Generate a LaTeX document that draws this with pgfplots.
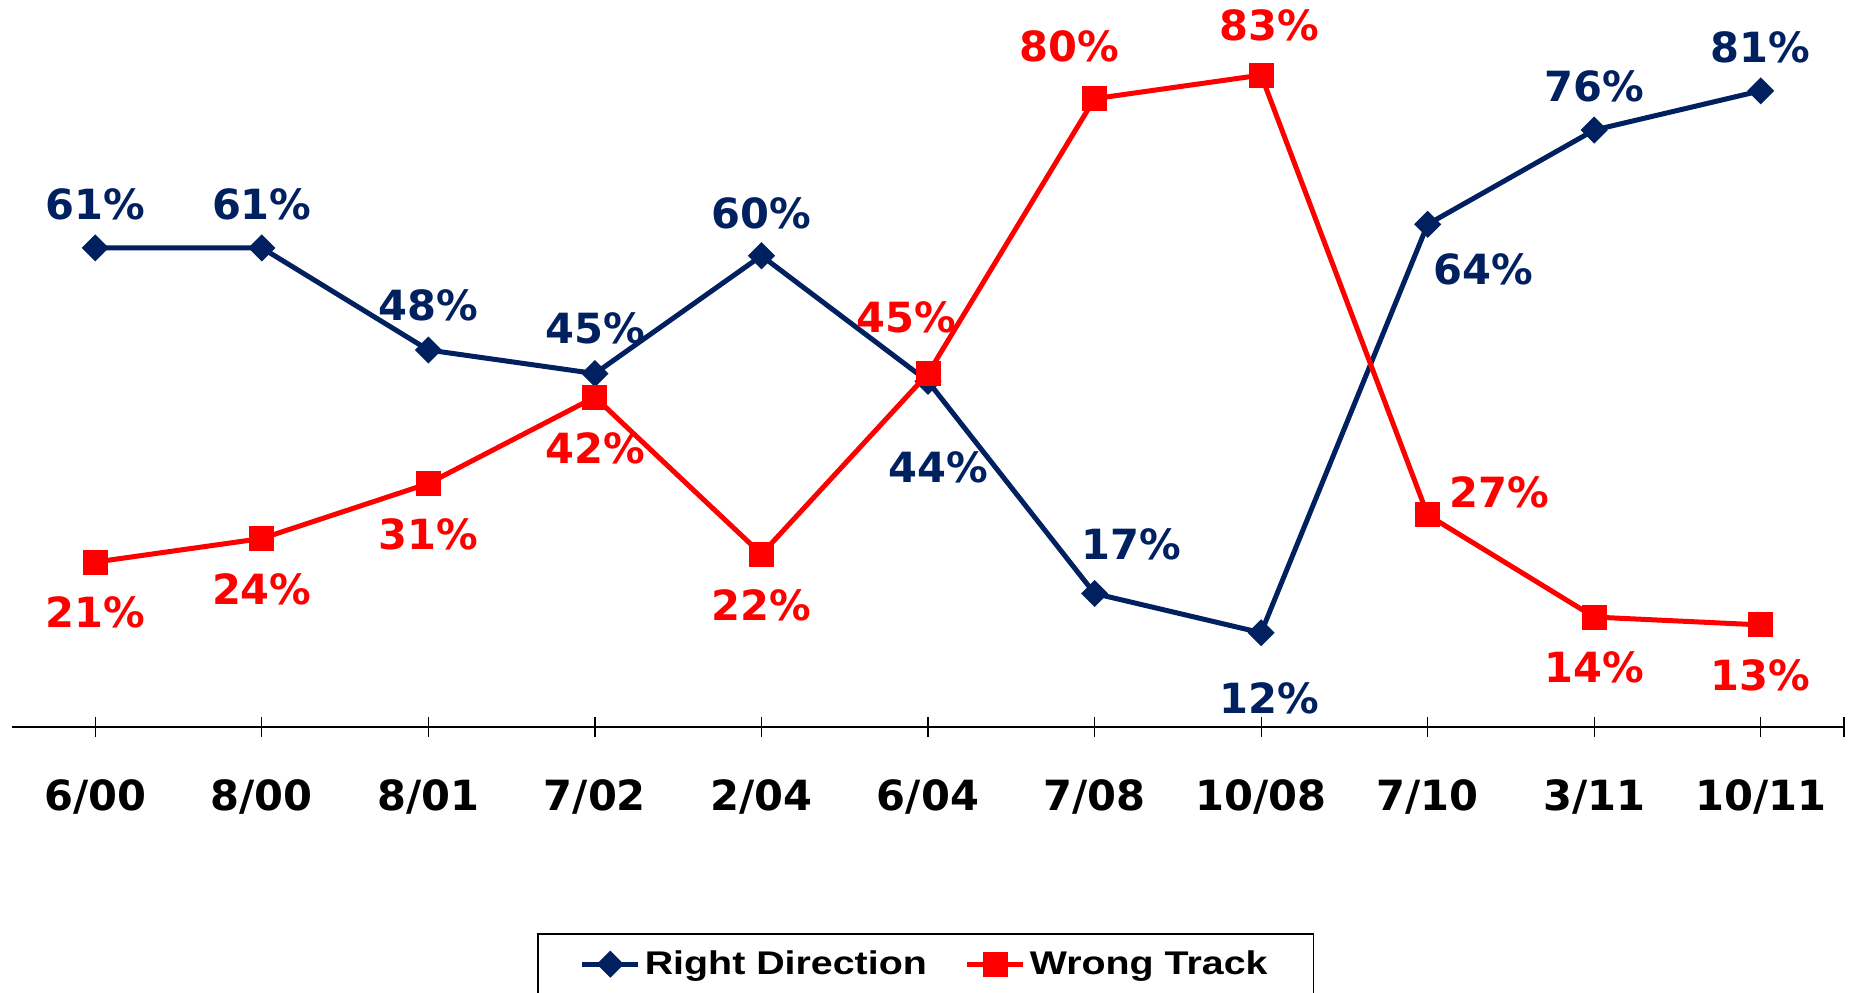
\documentclass[border=0pt]{standalone}
\usepackage{pgfplots}
\pgfplotsset{compat=1.18}
\usepackage{pgfplotstable}
\usepackage{fontspec}
\setmainfont{DejaVu Sans}
\newfontfamily\legfont[FakeStretch=1.2]{Liberation Sans}
\definecolor{navy}{RGB}{0,32,96}
\definecolor{wred}{RGB}{255,0,0}

\pgfplotstableread{
x y dx dy
0 61 0 37
1 61 0 37
2 48 0 38
3 45 0 38
4 60 0 36
5 44 9 -73
6 17 31 42
7 12 7 -56
8 64 47 -38
9 76 0 37
10 81 0 37
}\right
\pgfplotstableread{
x y dx dy
0 21 0 -43
1 24 0 -43
2 31 0 -43
3 42 0 -43
4 22 0 -43
5 45 -18 48
6 80 -21 44
7 83 7 42
8 27 61 19
9 14 0 -43
10 13 0 -43
}\wrong

\begin{document}
\begin{tikzpicture}
\begin{axis}[
  name=ax,
  scale only axis,
  width=916pt, height=363.5pt,
  xmin=-0.5, xmax=10.5,
  ymin=0, ymax=92.56,
  clip=false,
  axis x line=bottom,
  axis y line=none,
  axis line style={-, line width=1.1pt, black},
  xtick={0,...,10},
  xticklabels={6/00,8/00,8/01,7/02,2/04,6/04,7/08,10/08,7/10,3/11,10/11},
  extra x ticks={10.5},
  extra x tick labels={},
  tick align=center,
  major tick length=10pt,
  tick style={line width=0.6pt, black},
  xticklabel style={anchor=base, yshift=-36.5pt, inner sep=0pt,
    font=\fontsize{20.8}{24}\selectfont\bfseries},
  legend columns=2,
  legend style={at={(0.28657,-0.28336)}, anchor=north west,
    draw=black, line width=0.8pt, inner xsep=21pt, inner ysep=6.5pt,
    font=\legfont\bfseries\fontsize{16.4}{19}\selectfont,
    /tikz/every even column/.append style={column sep=17pt}},
  legend image code/.code={\draw[mark repeat=2,mark phase=2,#1]
     plot coordinates {(0pt,0pt) (14pt,0pt) (28pt,0pt)};},
  nodes near coords={\pgfplotspointmeta\%},
  point meta=explicit symbolic,
]
\addplot[navy, line width=2.5pt, mark=square*, mark size=3.54pt,
  mark options={rotate=45, solid},
  visualization depends on={\thisrow{dx}\as\dx},
  visualization depends on={\thisrow{dy}\as\dy},
  nodes near coords style={anchor=center, inner sep=0pt, text=navy,
    xshift=\dx*0.59pt, yshift=\dy*0.59pt,
    font=\fontsize{20.8}{24}\selectfont\bfseries}]
  table[x=x, y=y, meta=y] {\right};
\addlegendentry{Right Direction}
\addplot[wred, line width=2.5pt, mark=square*, mark size=5pt,
  mark options={solid},
  visualization depends on={\thisrow{dx}\as\dx},
  visualization depends on={\thisrow{dy}\as\dy},
  nodes near coords style={anchor=center, inner sep=0pt, text=wred,
    xshift=\dx*0.59pt, yshift=\dy*0.59pt,
    font=\fontsize{20.8}{24}\selectfont\bfseries}]
  table[x=x, y=y, meta=y] {\wrong};
\addlegendentry{Wrong Track}
\end{axis}
\pgfresetboundingbox
\path[use as bounding box] ([xshift=-6pt,yshift=-132.5pt]ax.south west) rectangle ([xshift=919.5pt,yshift=363.5pt]ax.south west);
\end{tikzpicture}
\end{document}
